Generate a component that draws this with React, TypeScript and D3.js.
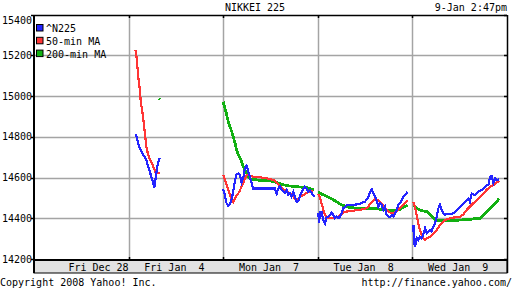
import React from 'react';
import * as d3 from 'd3';

const W = 512;
const H = 288;
const title = 'NIKKEI 225';
const stamp = '9-Jan 2:47pm';
const copyright = 'Copyright 2008 Yahoo! Inc.';
const source = 'http://finance.yahoo.com/';
const dayLabels = ['Fri Dec 28', 'Fri Jan  4', 'Mon Jan  7', 'Tue Jan  8', 'Wed Jan  9'];
const yTicks = [14200, 14400, 14600, 14800, 15000, 15200, 15400];
const legendNames = ['^N225', '50-min MA', '200-min MA'];
const MINUTES_PER_DAY = 375;

// [minutes after 9:00, index value]
const n225Jan4: [number, number][] = [[27,14812],[32,14800],[38,14768],[45,14743],[52,14727],[58,14710],[65,14702],[72,14678],[78,14653],[85,14629],[89,14604],[94,14588],[98,14572],[102,14551],[105,14572],[107,14596],[111,14629],[115,14661],[120,14686],[123,14697]];
const n225Jan7: [number, number][] = [[0,14544],[7,14511],[13,14475],[20,14462],[27,14470],[34,14495],[40,14535],[47,14584],[53,14615],[60,14620],[67,14609],[73,14576],[80,14601],[86,14647],[93,14658],[99,14633],[106,14602],[113,14572],[119,14546],[205,14546],[212,14521],[219,14548],[225,14558],[232,14539],[238,14534],[245,14524],[252,14539],[258,14514],[265,14522],[271,14506],[278,14529],[285,14504],[291,14480],[298,14485],[304,14509],[311,14530],[318,14547],[324,14555],[331,14547],[337,14530],[344,14539],[351,14522],[357,14514],[361,14504]];
const n225Jan8: [number, number][] = [[2,14424],[5,14375],[9,14432],[15,14432],[22,14391],[29,14375],[35,14408],[42,14408],[48,14416],[55,14427],[61,14416],[68,14400],[75,14408],[81,14400],[88,14408],[95,14424],[101,14449],[108,14457],[115,14465],[134,14465],[161,14469],[187,14481],[200,14503],[207,14530],[214,14542],[220,14522],[227,14506],[234,14481],[240,14457],[247,14473],[253,14465],[260,14441],[266,14457],[273,14416],[280,14408],[286,14408],[293,14416],[299,14408],[306,14424],[313,14441],[319,14465],[326,14473],[333,14490],[339,14506],[346,14514],[353,14525],[356,14530]];
const n225Jan9: [number, number][] = [[4,14367],[6,14285],[10,14260],[17,14302],[23,14293],[30,14310],[37,14302],[43,14318],[50,14351],[57,14326],[63,14334],[70,14342],[76,14334],[83,14359],[90,14375],[96,14408],[103,14449],[109,14465],[116,14441],[122,14424],[127,14418],[149,14421],[162,14424],[176,14441],[189,14457],[202,14473],[215,14490],[222,14498],[228,14481],[235,14522],[248,14514],[261,14530],[275,14539],[288,14555],[294,14563],[301,14563],[308,14604],[315,14607],[321,14572],[328,14596],[334,14588],[341,14588],[344,14591]];

const ma50Jan4: [number, number][] = [[27,15226],[32,15185],[36,15128],[38,15095],[42,15062],[46,15005],[49,14960],[54,14930],[61,14858],[66,14799],[71,14745],[78,14710],[86,14686],[98,14653],[106,14628],[113,14621],[123,14621]];
const ma50Jan7: [number, number][] = [[0,14612],[7,14588],[14,14563],[20,14539],[27,14514],[34,14490],[40,14481],[47,14498],[53,14514],[60,14522],[67,14539],[73,14555],[80,14572],[86,14593],[93,14612],[99,14612],[119,14604],[146,14601],[172,14596],[199,14588],[212,14576],[225,14560],[238,14544],[252,14530],[265,14522],[278,14506],[291,14485],[304,14506],[318,14514],[331,14525],[344,14530],[357,14534]];
const ma50Jan8: [number, number][] = [[2,14519],[9,14498],[15,14473],[22,14441],[29,14416],[35,14403],[48,14400],[68,14405],[81,14408],[95,14421],[108,14432],[134,14436],[161,14441],[187,14445],[200,14457],[214,14481],[227,14493],[240,14490],[253,14473],[266,14449],[280,14432],[293,14424],[306,14429],[319,14441],[333,14457],[346,14473],[356,14490]];
const ma50Jan9: [number, number][] = [[4,14481],[10,14457],[17,14416],[23,14375],[30,14342],[37,14318],[43,14302],[50,14293],[57,14302],[70,14310],[83,14326],[96,14342],[109,14367],[122,14383],[136,14395],[162,14403],[189,14408],[202,14419],[215,14441],[228,14457],[241,14473],[255,14490],[268,14506],[281,14519],[294,14539],[308,14555],[321,14563],[334,14575],[344,14584]];

const ma200Jan4: [number, number][] = [[120,14987],[125,14983]];
const ma200Jan7: [number, number][] = [[0,14972],[7,14940],[14,14907],[20,14874],[27,14849],[34,14825],[40,14800],[47,14768],[53,14735],[60,14710],[67,14694],[73,14678],[80,14653],[86,14637],[93,14621],[99,14604],[106,14596],[113,14591],[133,14588],[159,14585],[186,14583],[212,14576],[232,14567],[252,14560],[291,14555],[331,14550],[351,14542],[361,14539]];
const ma200Jan8: [number, number][] = [[2,14530],[15,14519],[42,14503],[68,14486],[95,14465],[121,14454],[147,14450],[200,14449],[253,14444],[279,14437],[306,14437],[326,14444],[339,14454],[356,14465]];
const ma200Jan9: [number, number][] = [[4,14465],[17,14449],[37,14437],[57,14432],[70,14416],[83,14400],[96,14391],[109,14388],[136,14388],[189,14391],[228,14395],[268,14400],[281,14416],[294,14432],[308,14449],[321,14465],[334,14481],[344,14498]];

type Session = { day: number; pts: [number, number][] };
const series: { name: string; color: string; width: number; sessions: Session[] }[] = [
  { name: '200-min MA', color: '#12b012', width: 2.8, sessions: [
    { day: 1, pts: ma200Jan4 }, { day: 2, pts: ma200Jan7 }, { day: 3, pts: ma200Jan8 }, { day: 4, pts: ma200Jan9 }] },
  { name: '50-min MA', color: '#ff3535', width: 2.2, sessions: [
    { day: 1, pts: ma50Jan4 }, { day: 2, pts: ma50Jan7 }, { day: 3, pts: ma50Jan8 }, { day: 4, pts: ma50Jan9 }] },
  { name: '^N225', color: '#2424ff', width: 2.2, sessions: [
    { day: 1, pts: n225Jan4 }, { day: 2, pts: n225Jan7 }, { day: 3, pts: n225Jan8 }, { day: 4, pts: n225Jan9 }] },
];
const legendColors = ['#2424ff', '#ff3535', '#12b012'];

export default function App() {
  const left = 34, right = 507, top = 15, bottom = 259;
  const bandBottom = 273;
  const x = d3.scaleLinear().domain([0, dayLabels.length * MINUTES_PER_DAY]).range([left, right]);
  const y = d3.scaleLinear().domain([14200, 15400]).range([bottom, 14.5]);
  const font = { fontFamily: '"DejaVu Sans Mono", monospace', fontSize: 10 };
  const grid = '#a4a4a4';
  const dayX = (d: number) => x(d * MINUTES_PER_DAY);

  return (
    <svg width={W} height={H} style={{ position: 'absolute', left: 0, top: 0, background: '#fff' }}>
      <rect x={0} y={0} width={W} height={H} fill="#fff" />
      {/* horizontal grid */}
      {yTicks.filter(t => t !== 14200 && t !== 15400).map(t => (
        <line key={'hg' + t} x1={left} x2={right} y1={Math.round(y(t)) + 0.5} y2={Math.round(y(t)) + 0.5} stroke={grid} strokeWidth={1.5} />
      ))}
      {/* vertical grid */}
      {dayLabels.slice(1).map((_, i) => (
        <line key={'vg' + i} x1={Math.round(dayX(i + 1)) + 0.5} x2={Math.round(dayX(i + 1)) + 0.5} y1={top} y2={bottom + 1} stroke={grid} strokeWidth={1.5} />
      ))}
      {/* axis band */}
      <rect x={left} y={bottom + 1} width={right - left} height={bandBottom - bottom - 1} fill="#e2e2e2" stroke="#000" strokeWidth={1} />
      <line x1={left} x2={right} y1={bottom + 1} y2={bottom + 1} stroke="#000" strokeWidth={2} />
      {/* frame */}
      <line x1={left} x2={right} y1={top + 0.5} y2={top + 0.5} stroke="#000" strokeWidth={1.5} />
      <line x1={right + 0.5} x2={right + 0.5} y1={top} y2={bandBottom} stroke="#000" strokeWidth={1.5} />
      <line x1={left} x2={left} y1={top} y2={bandBottom} stroke="#000" strokeWidth={2} />
      {/* ticks */}
      {yTicks.map(t => (
        <g key={'tk' + t}>
          <line x1={left - 3} x2={left} y1={Math.round(y(t)) + 0.5} y2={Math.round(y(t)) + 0.5} stroke="#000" strokeWidth={1.5} />
          <line x1={right - 3} x2={right} y1={Math.round(y(t)) + 0.5} y2={Math.round(y(t)) + 0.5} stroke="#000" strokeWidth={1.5} />
        </g>
      ))}
      {dayLabels.slice(1).map((_, i) => (
        <g key={'tv' + i}>
          <line x1={Math.round(dayX(i + 1)) + 0.5} x2={Math.round(dayX(i + 1)) + 0.5} y1={top} y2={top + 3} stroke="#000" strokeWidth={1.5} />
          <line x1={Math.round(dayX(i + 1)) + 0.5} x2={Math.round(dayX(i + 1)) + 0.5} y1={bottom - 2} y2={bottom + 1} stroke="#000" strokeWidth={1.5} />
        </g>
      ))}
      {/* series */}
      {series.map(s => (
        <g key={s.name}>
          {s.sessions.map(sess => {
            const line = d3.line<[number, number]>()
              .x(d => x(sess.day * MINUTES_PER_DAY + d[0]))
              .y(d => y(d[1]));
            return <path key={s.name + sess.day} d={line(sess.pts) || ''} fill="none" stroke={s.color} strokeWidth={s.width} strokeLinejoin="miter" shapeRendering="crispEdges" />;
          })}
        </g>
      ))}
      {/* y labels */}
      {yTicks.map(t => (
        <text key={'yl' + t} x={32} y={Math.max(y(t), 20) + 3.5} textAnchor="end" {...font}>{t}</text>
      ))}
      {/* day labels */}
      {dayLabels.map((l, i) => (
        <text key={'dl' + i} x={i === 0 ? dayX(1) : (dayX(i) + dayX(i + 1)) / 2 - 1.5} y={270.5}
          textAnchor={i === 0 ? 'end' : 'middle'} style={{ whiteSpace: 'pre' }} {...font}>{l}</text>
      ))}
      {/* title & stamp */}
      <text x={255} y={10.5} textAnchor="middle" {...font}>{title}</text>
      <text x={507} y={10.5} textAnchor="end" {...font}>{stamp}</text>
      {/* legend */}
      {legendNames.map((n, i) => (
        <g key={'lg' + i}>
          <rect x={36.5} y={24.5 + i * 12.8} width={6.5} height={6.5} fill={legendColors[i]} stroke="#000" strokeWidth={1} />
          <text x={46} y={32 + i * 12.8} {...font}>{n}</text>
        </g>
      ))}
      {/* footer */}
      <text x={0} y={286} {...font}>{copyright}</text>
      <text x={512} y={286} textAnchor="end" {...font}>{source}</text>
    </svg>
  );
}
